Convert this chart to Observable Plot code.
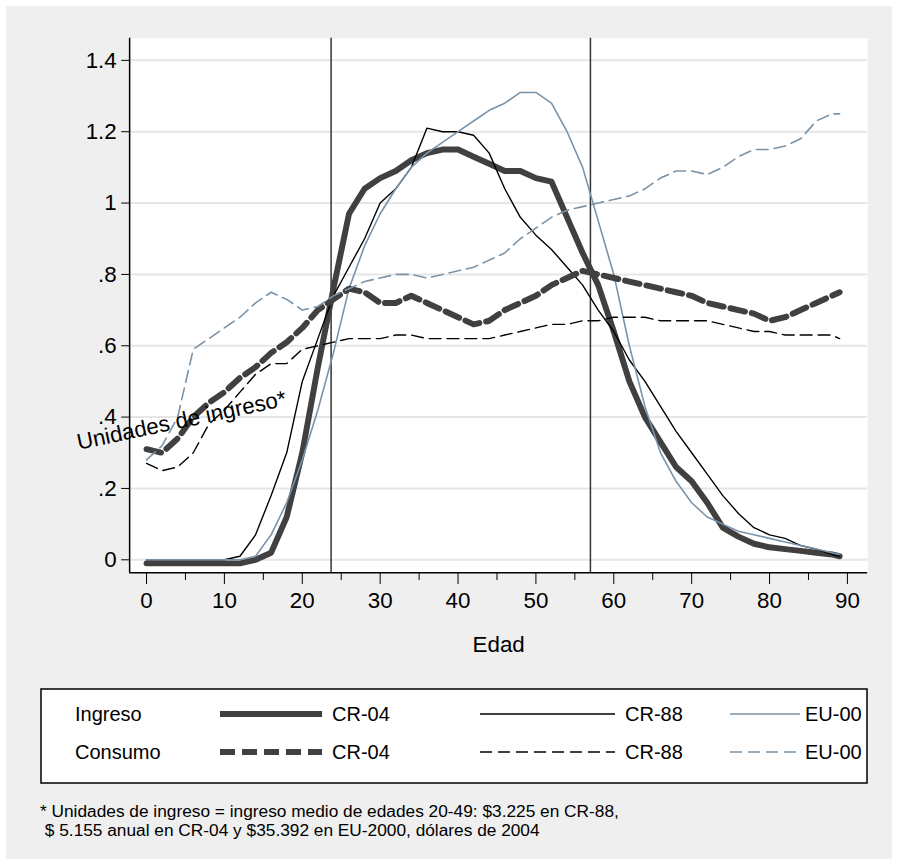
<!DOCTYPE html>
<html><head><meta charset="utf-8">
<script src="https://cdn.jsdelivr.net/npm/d3@7"></script>
<script src="https://cdn.jsdelivr.net/npm/@observablehq/plot@0.6"></script>
<style>
body{margin:0;background:#fff;font-family:"Liberation Sans",Arial,sans-serif;}
#wrap{position:absolute;left:6px;top:6px;width:886px;height:853px;background:#efefef;}
#chart{position:absolute;left:-6px;top:-6px;}
#chart svg text{font-size:22.5px !important;font-family:"Liberation Sans",Arial,sans-serif;}
#legend{position:absolute;left:34px;top:682px;}
#legend text{font-size:20px;}
#note{position:absolute;left:34px;top:796px;font-size:17.3px;line-height:19px;color:#000;}
</style></head><body>
<div id="wrap"><div id="chart"></div><div id="legend"></div>
<div id="note">* Unidades de ingreso = ingreso medio de edades 20-49: $3.225 en CR-88,<br>&nbsp;$ 5.155 anual en CR-04 y $35.392 en EU-2000, dólares de 2004</div></div>
<script>
const ages = [0,2,4,6,8,10,12,14,16,18,20,22,24,26,28,30,32,34,36,38,40,42,44,46,48,50,52,54,56,58,60,62,64,66,68,70,72,74,76,78,80,82,84,86,88,89];
const ingresoCR04 = [-0.01,-0.01,-0.01,-0.01,-0.01,-0.01,-0.01,0.0,0.02,0.12,0.30,0.54,0.76,0.97,1.04,1.07,1.09,1.12,1.14,1.15,1.15,1.13,1.11,1.09,1.09,1.07,1.06,0.96,0.86,0.77,0.64,0.50,0.40,0.33,0.26,0.22,0.16,0.09,0.065,0.045,0.035,0.03,0.025,0.02,0.015,0.01];
const ingresoCR88 = [0,0,0,0,0,0,0.01,0.07,0.18,0.30,0.50,0.62,0.74,0.82,0.90,1.0,1.04,1.10,1.21,1.20,1.20,1.19,1.14,1.04,0.96,0.91,0.87,0.82,0.77,0.70,0.64,0.56,0.50,0.43,0.36,0.30,0.24,0.18,0.13,0.09,0.07,0.06,0.04,0.03,0.015,0.01];
const ingresoEU00 = [0,0,0,0,0,0,0,0.01,0.07,0.16,0.28,0.42,0.58,0.76,0.88,0.97,1.04,1.10,1.14,1.17,1.20,1.23,1.26,1.28,1.31,1.31,1.28,1.20,1.10,0.95,0.80,0.60,0.43,0.30,0.22,0.16,0.12,0.10,0.08,0.07,0.06,0.05,0.04,0.03,0.02,0.015];
const consumoCR04 = [0.31,0.30,0.34,0.40,0.44,0.47,0.51,0.54,0.58,0.61,0.65,0.70,0.73,0.76,0.75,0.72,0.72,0.74,0.72,0.70,0.68,0.66,0.67,0.70,0.72,0.74,0.77,0.79,0.81,0.80,0.79,0.78,0.77,0.76,0.75,0.74,0.72,0.71,0.70,0.69,0.67,0.68,0.70,0.72,0.74,0.75];
const consumoCR88 = [0.27,0.25,0.26,0.30,0.38,0.42,0.47,0.52,0.55,0.55,0.59,0.60,0.61,0.62,0.62,0.62,0.63,0.63,0.62,0.62,0.62,0.62,0.62,0.63,0.64,0.65,0.66,0.66,0.67,0.67,0.68,0.68,0.68,0.67,0.67,0.67,0.67,0.66,0.65,0.64,0.64,0.63,0.63,0.63,0.63,0.62];
const consumoEU00 = [0.28,0.32,0.40,0.59,0.62,0.65,0.68,0.72,0.75,0.73,0.70,0.71,0.74,0.76,0.78,0.79,0.80,0.80,0.79,0.80,0.81,0.82,0.84,0.86,0.90,0.93,0.96,0.98,0.99,1.00,1.01,1.02,1.04,1.07,1.09,1.09,1.08,1.10,1.13,1.15,1.15,1.16,1.18,1.23,1.25,1.25];
const vlines = [23.7, 57];
const xTicks = [0,10,20,30,40,50,60,70,80,90];
const yTicks = [0,0.2,0.4,0.6,0.8,1,1.2,1.4];
const yLabels = ["0",".2",".4",".6",".8","1","1.2","1.4"];

const dark = "#404040", blue = "#7a93a8";
const series = [
  {v: ingresoCR04, stroke: dark, w: 6, dash: null},
  {v: ingresoCR88, stroke: "#000", w: 1.4, dash: null},
  {v: ingresoEU00, stroke: blue, w: 1.6, dash: null},
  {v: consumoCR04, stroke: dark, w: 6, dash: "15 7"},
  {v: consumoCR88, stroke: "#000", w: 1.4, dash: "12 6"},
  {v: consumoEU00, stroke: blue, w: 1.6, dash: "12 6"}
];
const rows = v => ages.map((a, i) => ({a, y: v[i]}));
const xd = [-2.17, 92.6], yd = [-0.036, 1.462];

const chart = Plot.plot({
  width: 898, height: 668,
  marginLeft: 130, marginRight: 25, marginTop: 38, marginBottom: 92,
  style: {background: "transparent", color: "#000"},
  x: {domain: xd, ticks: xTicks, label: null},
  y: {domain: yd, ticks: yTicks, label: null},
  marks: [
    Plot.frame({fill: "#fff", stroke: null}),
    Plot.gridY(yTicks, {stroke: "#e6e6e6", strokeOpacity: 1, strokeWidth: 2}),
    Plot.ruleX([xd[0]], {stroke: "#000", strokeWidth: 1.5}),
    Plot.ruleY([yd[0]], {stroke: "#000", strokeWidth: 1.5}),
    Plot.axisY(yTicks, {tickSize: 8, tickPadding: 5, tickFormat: (d, i) => yLabels[i]}),
    Plot.axisX(xTicks, {tickSize: 12, tickPadding: 8}),
    Plot.axisX(d3.range(5, 90, 10), {tickSize: 8, text: null}),
    Plot.text(["Edad"], {frameAnchor: "bottom", dy: 80}),
    Plot.ruleX(vlines, {stroke: "#333", strokeWidth: 1.5}),
    ...series.map(s => Plot.line(rows(s.v), {x: "a", y: "y", stroke: s.stroke, strokeWidth: s.w, strokeDasharray: s.dash, curve: "linear"})),
    Plot.text(["Unidades de ingreso*"], {x: 4.5, y: 0.39, rotate: -12, fill: "#000"})
  ]
});
d3.select("#chart").append(() => chart);

// legend
const lg = [
  {lab: "Ingreso", y: 26}, {lab: "Consumo", y: 64}
];
const ls = d3.select("#legend").append("svg").attr("width", 828).attr("height", 96);
ls.append("rect").attr("x", 1).attr("y", 1).attr("width", 826).attr("height", 94).attr("fill", "#fff").attr("stroke", "#000").attr("stroke-width", 1.5);
const cols = [{x1: 180, x2: 282, tx: 292, name: "CR-04", s: 0}, {x1: 440, x2: 575, tx: 585, name: "CR-88", s: 1}, {x1: 690, x2: 760, tx: 765, name: "EU-00", s: 2}];
lg.forEach((r, ri) => {
  ls.append("text").attr("x", 35).attr("y", r.y + 7).text(r.lab);
  cols.forEach(c => {
    const s = series[c.s + ri * 3];
    ls.append("line").attr("x1", c.x1).attr("x2", c.x2).attr("y1", r.y).attr("y2", r.y)
      .attr("stroke", s.stroke).attr("stroke-width", s.w).attr("stroke-dasharray", s.dash);
    ls.append("text").attr("x", c.tx).attr("y", r.y + 7).text(c.name);
  });
});
</script></body></html>
